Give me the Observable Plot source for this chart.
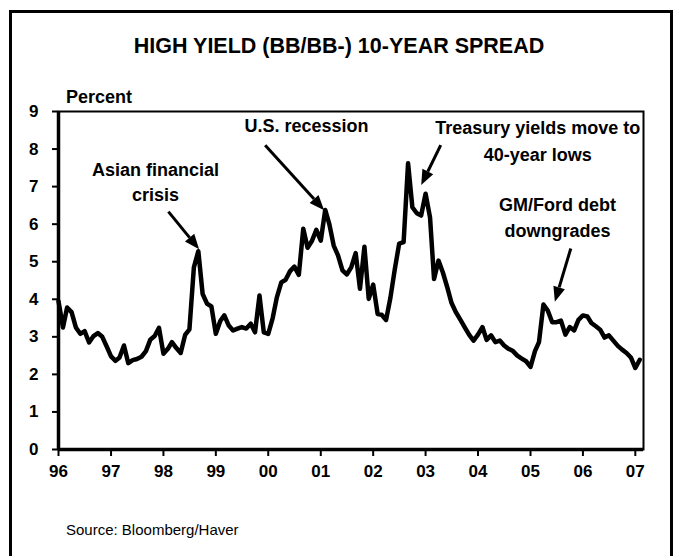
<!DOCTYPE html>
<html><head><meta charset="utf-8">
<script src="https://cdn.jsdelivr.net/npm/d3@7"></script>
<script src="https://cdn.jsdelivr.net/npm/@observablehq/plot@0.6"></script>
<style>
body{margin:0;background:#fff;}
#wrap{position:relative;width:678px;height:556px;overflow:hidden;font-family:Arial,"Liberation Sans",sans-serif;color:#000;}
#border{position:absolute;left:9px;top:10px;width:658px;height:600px;border:3px solid #000;z-index:5;}
#title{position:absolute;left:0;width:678px;top:36px;line-height:21px;text-align:center;font-weight:bold;font-size:21.5px;}
#percent{position:absolute;left:66px;top:88px;line-height:18px;font-weight:bold;font-size:18px;}
#source{position:absolute;left:66px;top:522px;line-height:15px;font-size:15px;}
#chart{position:absolute;left:0;top:0;}
</style></head>
<body><div id="wrap"><div id="chart"></div><div id="title">HIGH YIELD (BB/BB-) 10-YEAR SPREAD</div><div id="percent">Percent</div><div id="source">Source: Bloomberg/Haver</div><div id="border"></div></div>
<script>
// Monthly spread values (percent), Jan..Dec of each year
const v1996 = [3.95, 3.25, 3.78, 3.66, 3.25, 3.08, 3.15, 2.85, 3.02, 3.10, 3.00, 2.75];
const v1997 = [2.48, 2.36, 2.45, 2.77, 2.30, 2.38, 2.41, 2.47, 2.62, 2.92, 3.02, 3.24];
const v1998 = [2.55, 2.68, 2.86, 2.70, 2.57, 3.05, 3.20, 4.85, 5.28, 4.14, 3.88, 3.81];
const v1999 = [3.08, 3.42, 3.57, 3.30, 3.17, 3.22, 3.26, 3.22, 3.35, 3.12, 4.10, 3.12];
const v2000 = [3.08, 3.50, 4.05, 4.45, 4.52, 4.75, 4.87, 4.65, 5.88, 5.37, 5.56, 5.85];
const v2001 = [5.56, 6.38, 6.01, 5.43, 5.17, 4.77, 4.66, 4.85, 5.23, 4.28, 5.40, 4.01];
const v2002 = [4.39, 3.61, 3.59, 3.45, 4.04, 4.81, 5.48, 5.52, 7.62, 6.45, 6.29, 6.23];
const v2003 = [6.81, 6.18, 4.54, 5.03, 4.72, 4.32, 3.90, 3.65, 3.45, 3.25, 3.05, 2.90];
const v2004 = [3.06, 3.26, 2.92, 3.04, 2.86, 2.90, 2.77, 2.68, 2.62, 2.50, 2.42, 2.35];
const v2005 = [2.20, 2.62, 2.86, 3.86, 3.70, 3.39, 3.39, 3.43, 3.06, 3.26, 3.17, 3.45];
const v2006 = [3.57, 3.54, 3.37, 3.28, 3.19, 2.98, 3.04, 2.90, 2.76, 2.66, 2.57, 2.45];
const v2007 = [2.17, 2.39];

const seriesByYear = [[1996, v1996], [1997, v1997], [1998, v1998], [1999, v1999], [2000, v2000], [2001, v2001],
  [2002, v2002], [2003, v2003], [2004, v2004], [2005, v2005], [2006, v2006], [2007, v2007]];

const yTicks = [0, 1, 2, 3, 4, 5, 6, 7, 8, 9];
const xTickYears = [1996, 1997, 1998, 1999, 2000, 2001, 2002, 2003, 2004, 2005, 2006, 2007];
const xTickLabels = ["96", "97", "98", "99", "00", "01", "02", "03", "04", "05", "06", "07"];

const annotations = [
  {label: "Asian financial", date: new Date(1997, 10, 6), value: 7.43},
  {label: "crisis", date: new Date(1997, 10, 6), value: 6.76},
  {label: "U.S. recession", date: new Date(2000, 8, 24), value: 8.60},
  {label: "Treasury yields move to", date: new Date(2005, 1, 20), value: 8.55},
  {label: "40-year lows", date: new Date(2005, 1, 20), value: 7.83},
  {label: "GM/Ford debt", date: new Date(2005, 6, 8), value: 6.50},
  {label: "downgrades", date: new Date(2005, 6, 8), value: 5.80}
];
const arrows = [
  {x1: new Date(1998, 1, 8), y1: 6.32, x2: new Date(1998, 8, 10), y2: 5.32},
  {x1: new Date(1999, 11, 14), y1: 8.09, x2: new Date(2001, 0, 28), y2: 6.36},
  {x1: new Date(2003, 3, 20), y1: 8.09, x2: new Date(2002, 11, 5), y2: 7.03},
  {x1: new Date(2005, 9, 12), y1: 5.34, x2: new Date(2005, 5, 23), y2: 3.92}
];

const data = [];
for (const [yr, vals] of seriesByYear) vals.forEach((v, m) => data.push({date: new Date(yr, m, 1), value: v}));
const xTicks = xTickYears.map(y => new Date(y, 0, 1));
const xDomain = [new Date(1996, 0, 1), new Date(2007, 1, 27)];

const plot = Plot.plot({
  width: 678, height: 500,
  marginLeft: 58, marginRight: 35, marginTop: 111, marginBottom: 51,
  style: {background: "none", fontFamily: "Arial, 'Liberation Sans', sans-serif", fontSize: "17px", fontWeight: "bold", color: "#000"},
  x: {type: "time", domain: xDomain},
  y: {domain: [0, 9]},
  marks: [
    Plot.frame({stroke: "#000", strokeWidth: 2}),
    Plot.axisY({ticks: yTicks, tickSize: 6, tickPadding: 14, strokeWidth: 2, label: null, tickFormat: d => String(d)}),
    Plot.axisX({ticks: xTicks, tickSize: 7, tickPadding: 8, strokeWidth: 2, label: null,
      tickFormat: d => xTickLabels[xTickYears.indexOf(d.getFullYear())]}),
    Plot.ruleX([xDomain[0]], {stroke: "#000", strokeWidth: 3.5}),
    Plot.ruleY([0], {stroke: "#000", strokeWidth: 3.5}),
    Plot.line(data, {x: "date", y: "value", stroke: "#000", strokeWidth: 4.5, strokeLinejoin: "round"}),
    Plot.text(annotations, {x: "date", y: "value", text: "label", fontSize: 18, fontWeight: "bold", fill: "#000"})
  ]
});

// arrows with filled heads, positioned through the plot's own scales
const xs = plot.scale("x"), ys = plot.scale("y");
const g = d3.select(plot).append("g");
for (const a of arrows) {
  const px1 = xs.apply(a.x1), py1 = ys.apply(a.y1), px2 = xs.apply(a.x2), py2 = ys.apply(a.y2);
  const ang = Math.atan2(py2 - py1, px2 - px1);
  const L = 15, W = 6;
  const bx = px2 - L * Math.cos(ang), by = py2 - L * Math.sin(ang);
  g.append("line").attr("x1", px1).attr("y1", py1).attr("x2", bx).attr("y2", by)
    .attr("stroke", "#000").attr("stroke-width", 3);
  const nx = -Math.sin(ang), ny = Math.cos(ang);
  g.append("polygon").attr("points", [[px2, py2], [bx + nx * W, by + ny * W], [bx - nx * W, by - ny * W]].map(p => p.join(",")).join(" "))
    .attr("fill", "#000");
}
document.getElementById("chart").appendChild(plot);
</script>
</body></html>
